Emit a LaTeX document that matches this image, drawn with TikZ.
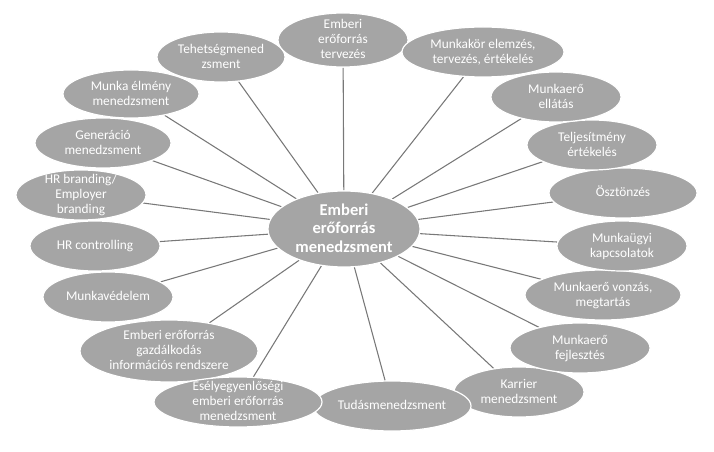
\documentclass[tikz,border=0pt]{standalone}
\usepackage{fontspec}
\setmainfont{Carlito}
\usetikzlibrary{shapes.geometric,backgrounds}
\definecolor{ellfill}{RGB}{165,165,165}
\definecolor{linecol}{RGB}{120,120,120}
\newcommand{\ettext}[1]{\makebox[0pt]{\raisebox{-0.3em}[0pt][0pt]{\begin{tabular}{@{}c@{}}#1\end{tabular}}}}
\begin{document}
\begin{tikzpicture}[x=0.75pt,y=-0.75pt,
  ell/.style 2 args={ellipse, fill=ellfill, draw=white, line width=0.9pt, inner sep=0pt,
    text=white, font=\fontsize{10pt}{11.4pt}\selectfont,
    minimum width=#1*1.5pt, minimum height=#2*1.5pt},
  hub/.style={ellipse, fill=ellfill, draw=white, line width=0.9pt, inner sep=0pt,
    text=white, font=\fontsize{12.4pt}{14pt}\selectfont\bfseries,
    minimum width=152*0.75pt, minimum height=76*0.75pt},
  conn/.style={draw=linecol, line width=0.8pt}]
\useasboundingbox (0,0) rectangle (714,452);
\node[hub] (c) at (344,229) {\ettext{Emberi\\erőforrás\\menedzsment}};
\node[ell={65}{27}] (terv) at (343,40) {\ettext{Emberi\\erőforrás\\tervezés}};
\node[ell={64}{25}] (tehet) at (221,57) {\ettext{Tehetségmened\\zsment}};
\node[ell={68}{24}] (elmeny) at (131,94) {\ettext{Munka élmény\\menedzsment}};
\node[ell={68}{25}] (gener) at (103,143) {\ettext{Generáció\\menedzsment}};
\node[ell={65}{25}] (brand) at (81,195) {\ettext{HR branding/\\Employer\\branding}};
\node[ell={65}{25}] (contr) at (95,246) {\ettext{HR controlling}};
\node[ell={65}{25}] (vedel) at (108,297) {\ettext{Munkavédelem}};
\node[ell={89}{31}] (gazd) at (169,351) {\ettext{Emberi erőforrás\\gazdálkodás\\információs rendszere}};
\node[ell={65}{25}] (karr) at (519,392) {\ettext{Karrier\\menedzsment}};
\node[ell={79}{25}] (tudas) at (392,406) {\ettext{Tudásmenedzsment}};
\node[ell={84}{25}] (esely) at (238,402) {\ettext{Esélyegyenlőségi\\emberi erőforrás\\menedzsment}};
\node[ell={70}{25}] (fejl) at (580,348) {\ettext{Munkaerő\\fejlesztés}};
\node[ell={78}{25}] (vonz) at (603,295) {\ettext{Munkaerő vonzás,\\megtartás}};
\node[ell={65}{25}] (munkau) at (622,246) {\ettext{Munkaügyi\\kapcsolatok}};
\node[ell={74}{25}] (oszt) at (623,193) {\ettext{Ösztönzés}};
\node[ell={65}{25}] (telj) at (592,145) {\ettext{Teljesítmény\\értékelés}};
\node[ell={65}{25}] (ellat) at (556,97) {\ettext{Munkaerő\\ellátás}};
\node[ell={81}{25}] (munkak) at (483,52) {\ettext{Munkakör elemzés,\\tervezés, értékelés}};
\begin{scope}[on background layer]
\foreach \t in {terv,tehet,elmeny,gener,brand,contr,vedel,gazd,esely,tudas,karr,fejl,vonz,munkau,oszt,telj,ellat,munkak}
  \draw[conn] (c) -- (\t);
\end{scope}
\end{tikzpicture}
\end{document}
